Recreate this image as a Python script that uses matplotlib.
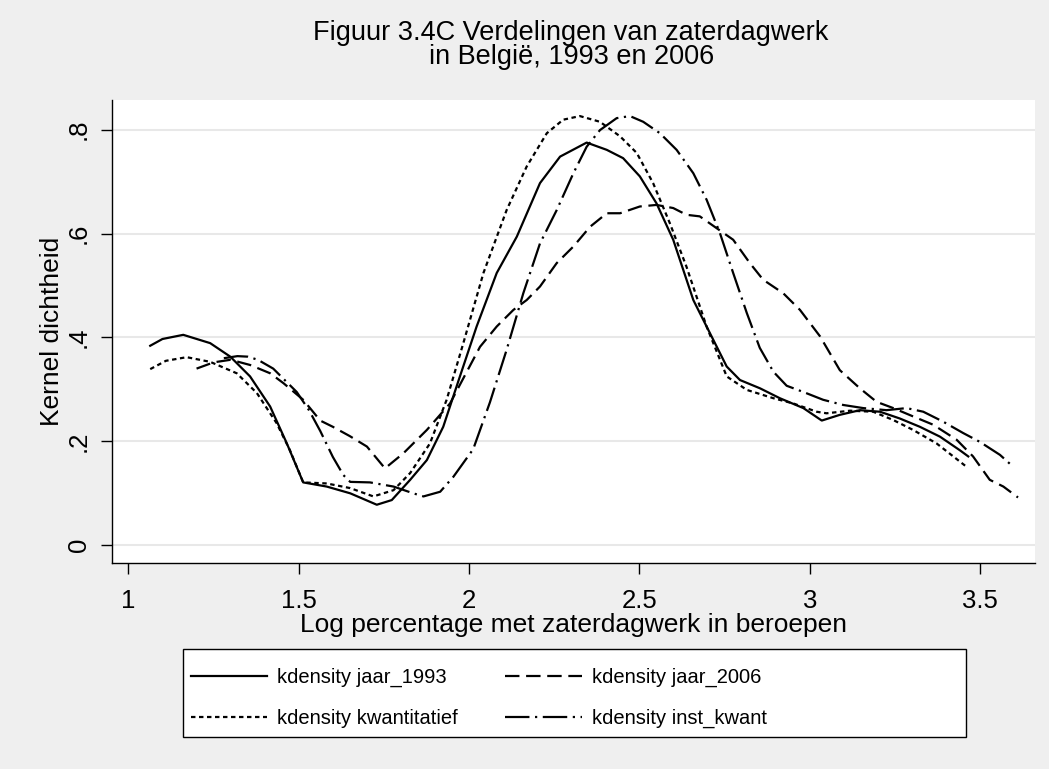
import matplotlib
matplotlib.use("Agg")
import matplotlib.pyplot as plt
from matplotlib.patches import Rectangle

# kdensity jaar_1993 (solid)
x_1993 = [1.064, 1.10, 1.161, 1.24, 1.299, 1.357, 1.416, 1.465, 1.513, 1.582, 1.651, 1.729, 1.773,
          1.827, 1.876, 1.924, 1.973, 2.022, 2.081, 2.140, 2.208, 2.267, 2.345, 2.404, 2.452, 2.501,
          2.550, 2.599, 2.658, 2.697, 2.756, 2.795, 2.854, 2.912, 2.981, 3.035, 3.088, 3.147, 3.206,
          3.264, 3.323, 3.382, 3.440, 3.465]
y_1993 = [0.384, 0.397, 0.405, 0.389, 0.363, 0.325, 0.267, 0.196, 0.121, 0.113, 0.100, 0.078, 0.087,
          0.126, 0.164, 0.228, 0.325, 0.421, 0.524, 0.594, 0.697, 0.748, 0.775, 0.761, 0.745, 0.710,
          0.658, 0.588, 0.472, 0.421, 0.344, 0.318, 0.302, 0.283, 0.264, 0.240, 0.251, 0.260, 0.257,
          0.244, 0.228, 0.209, 0.183, 0.171]

# kdensity jaar_2006 (dashed)
x_2006 = [1.20, 1.25, 1.30, 1.357, 1.416, 1.455, 1.513, 1.563, 1.60, 1.65, 1.70, 1.753, 1.807, 1.876,
          1.944, 1.99, 2.032, 2.081, 2.130, 2.169, 2.208, 2.257, 2.306, 2.355, 2.404, 2.443, 2.501,
          2.550, 2.599, 2.638, 2.677, 2.727, 2.775, 2.824, 2.863, 2.922, 2.971, 3.030, 3.088, 3.147,
          3.196, 3.245, 3.303, 3.362, 3.431, 3.479, 3.528, 3.568, 3.611]
y_2006 = [0.340, 0.352, 0.357, 0.347, 0.331, 0.312, 0.280, 0.240, 0.228, 0.210, 0.190, 0.148, 0.177,
          0.222, 0.273, 0.330, 0.382, 0.421, 0.453, 0.472, 0.498, 0.543, 0.575, 0.613, 0.639, 0.639,
          0.652, 0.655, 0.649, 0.636, 0.633, 0.610, 0.588, 0.543, 0.511, 0.485, 0.453, 0.402, 0.337,
          0.302, 0.276, 0.264, 0.248, 0.232, 0.203, 0.171, 0.126, 0.113, 0.092]

# kdensity kwantitatief (dotted)
x_kwan = [1.064, 1.11, 1.171, 1.240, 1.318, 1.377, 1.435, 1.474, 1.513, 1.582, 1.651, 1.719, 1.778,
          1.827, 1.885, 1.934, 1.983, 2.042, 2.110, 2.169, 2.228, 2.276, 2.325, 2.384, 2.443, 2.492,
          2.540, 2.589, 2.638, 2.697, 2.756, 2.815, 2.893, 2.951, 3.020, 3.049, 3.118, 3.186, 3.245,
          3.303, 3.372, 3.421, 3.460]
y_kwan = [0.339, 0.355, 0.362, 0.353, 0.331, 0.293, 0.235, 0.183, 0.121, 0.119, 0.110, 0.094, 0.106,
          0.139, 0.196, 0.280, 0.389, 0.524, 0.645, 0.729, 0.793, 0.819, 0.826, 0.815, 0.787, 0.755,
          0.697, 0.620, 0.536, 0.421, 0.325, 0.299, 0.283, 0.273, 0.257, 0.254, 0.259, 0.257, 0.241,
          0.222, 0.196, 0.171, 0.151]

# kdensity inst_kwant (dash-dot)
x_inst = [1.28, 1.32, 1.35, 1.38, 1.425, 1.494, 1.53, 1.563, 1.60, 1.631, 1.651, 1.709, 1.778, 1.836,
          1.866, 1.915, 1.954, 2.012, 2.061, 2.110, 2.159, 2.208, 2.257, 2.306, 2.345, 2.384, 2.433,
          2.472, 2.511, 2.560, 2.609, 2.658, 2.697, 2.736, 2.775, 2.815, 2.853, 2.893, 2.932, 2.981,
          3.039, 3.098, 3.157, 3.225, 3.284, 3.333, 3.391, 3.450, 3.499, 3.558, 3.597]
y_inst = [0.360, 0.364, 0.363, 0.357, 0.340, 0.295, 0.260, 0.220, 0.170, 0.135, 0.122, 0.121, 0.113,
          0.100, 0.094, 0.103, 0.132, 0.185, 0.275, 0.376, 0.485, 0.581, 0.645, 0.716, 0.767, 0.799,
          0.822, 0.826, 0.815, 0.793, 0.761, 0.716, 0.665, 0.601, 0.524, 0.447, 0.380, 0.334, 0.307,
          0.295, 0.280, 0.270, 0.264, 0.260, 0.264, 0.257, 0.238, 0.216, 0.199, 0.174, 0.151]

x_ticks = [1, 1.5, 2, 2.5, 3, 3.5]
x_ticklabels = ["1", "1.5", "2", "2.5", "3", "3.5"]
y_ticks = [0, 0.2, 0.4, 0.6, 0.8]
y_ticklabels = ["0", ".2", ".4", ".6", ".8"]

plt.rcParams["font.family"] = ["Liberation Sans", "DejaVu Sans"]

bg = "#efefef"
W, H = 1049, 769
fig = plt.figure(figsize=(W / 100, H / 100), dpi=100, facecolor=bg)
ax = fig.add_axes([0.1065, 0.2683, 0.8802, 0.6017])
ax.set_facecolor("white")

lw = 1.6
l1, = ax.plot(x_1993, y_1993, color="black", lw=lw, linestyle="-")
l2, = ax.plot(x_2006, y_2006, color="black", lw=lw, linestyle=(0, (6.5, 3)))
l3, = ax.plot(x_kwan, y_kwan, color="black", lw=lw, linestyle=(0, (2, 1.6)))
l4, = ax.plot(x_inst, y_inst, color="black", lw=lw, linestyle=(0, (11, 2.5, 1, 2.5)))

ax.set_xlim(0.951, 3.661)
ax.set_ylim(-0.0335, 0.857)
ax.set_xticks(x_ticks)
ax.set_xticklabels(x_ticklabels)
ax.set_yticks(y_ticks)
ax.set_yticklabels(y_ticklabels, rotation=90, va="center")
ax.yaxis.grid(True, color="#e8e8e8", lw=1.5)
ax.set_axisbelow(True)
for s in ["top", "right"]:
    ax.spines[s].set_visible(False)
for s in ["left", "bottom"]:
    ax.spines[s].set_linewidth(1.0)
ax.tick_params(axis="both", direction="out", length=8, width=1.0, labelsize=18.5, colors="black")
ax.tick_params(axis="y", pad=7)
ax.tick_params(axis="x", pad=11)

ax.set_xlabel("Log percentage met zaterdagwerk in beroepen", fontsize=19, labelpad=0)
ax.set_ylabel("Kernel dichtheid", fontsize=19, labelpad=2)

fig.text(0.5445, 1 - 33 / H, "Figuur 3.4C Verdelingen van zaterdagwerk", ha="center", va="center", fontsize=19.5)
fig.text(0.5445, 1 - 57 / H, "in België, 1993 en 2006", ha="center", va="center", fontsize=19.5)

# legend box, wider than its contents
fig.patches.append(Rectangle((183 / W, 1 - 737 / H), (966 - 183) / W, (737 - 649) / H,
                             transform=fig.transFigure, facecolor="white", edgecolor="black",
                             lw=1.0, zorder=1))
leg = fig.legend([l1, l3, l2, l4],
                 ["kdensity jaar_1993", "kdensity kwantitatief", "kdensity jaar_2006", "kdensity inst_kwant"],
                 ncol=2, loc="upper left", bbox_to_anchor=(174 / W, 1 - 651 / H),
                 fontsize=14.5, handlelength=3.8, handletextpad=0.5, columnspacing=2.35,
                 borderpad=0.33, labelspacing=1.1, frameon=False)

fig.savefig("out.png", dpi=100, facecolor=bg)
